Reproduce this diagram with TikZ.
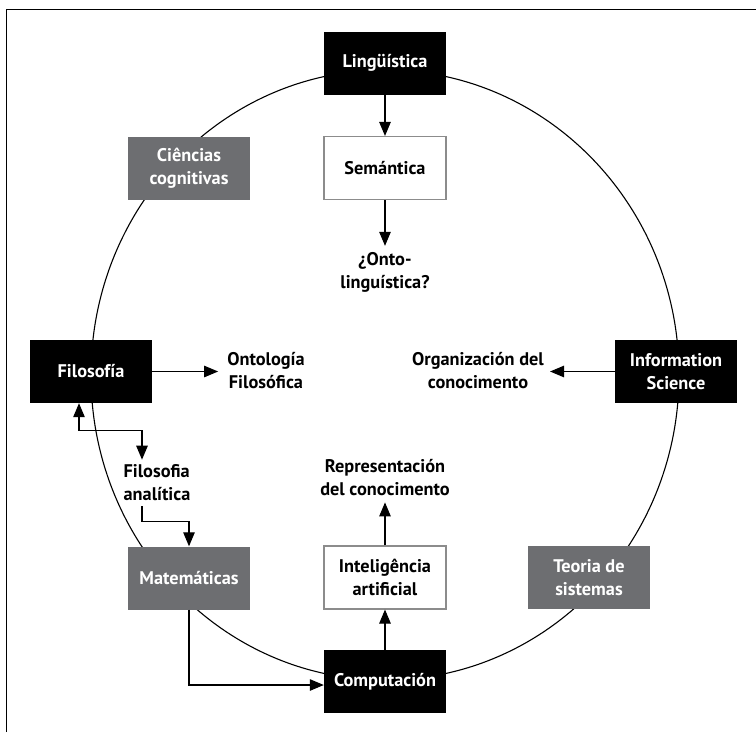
\documentclass[tikz,border=0pt]{standalone}
\usepackage{fontspec}
\setmainfont{PT Sans}
\usetikzlibrary{arrows.meta}
\definecolor{boxgray}{HTML}{6D6E71}
\definecolor{edgegray}{HTML}{8C8C8C}
\begin{document}
\begin{tikzpicture}[x=1pt,y=-1pt,
  font=\fontsize{18.3}{23}\selectfont\bfseries,
  box/.style={minimum width=122pt, minimum height=63pt, inner sep=0pt, align=center, text=white},
  blackbox/.style={box, fill=black},
  graybox/.style={box, fill=boxgray},
  whitebox/.style={box, fill=white, draw=edgegray, line width=1.1pt, text=black},
  lbl/.style={align=center, inner sep=6pt, text=black},
  arr/.style={-{Triangle[length=14pt,width=11.5pt]}, line width=1.1pt},
  dbl/.style={{Triangle[length=14pt,width=11.5pt]}-{Triangle[length=14pt,width=11.5pt]}, line width=1.1pt},
  ring/.style={line width=1.1pt}]
\useasboundingbox (0,0) rectangle (756,732);

% outer frame (top and left edges)
\draw[line width=1.3pt] (6.5,732) -- (6.5,9.5) -- (756,9.5);

% the ring behind the boxes
\draw[ring] (385,375) ellipse [x radius=294, y radius=305];

% boxes
\node[blackbox] (ling) at (385,63) {Lingüística};
\node[whitebox] (sem)  at (385,168) {Semántica};
\node[graybox]  (cog)  at (189,168.5) {Ciências\\cognitivas};
\node[blackbox] (filo) at (91,371.5) {Filosofía};
\node[blackbox] (info) at (676,371.5) {Information\\Science};
\node[graybox]  (mat)  at (189,578) {Matemáticas};
\node[whitebox] (ia)   at (385,577.5) {Inteligência\\artificial};
\node[graybox]  (teo)  at (589,577.5) {Teoria de\\sistemas};
\node[blackbox] (comp) at (385,681.5) {Computación};

% free labels
\node[lbl] (onto) at (385,272) {¿Onto-\\linguística?};
\node[lbl, inner xsep=9pt] (ontfil) at (266,371) {Ontología\\Filosófica};
\node[lbl] (org)  at (478,371) {Organización del\\conocimento};
\node[lbl] (rep)  at (385,478) {Representación\\del conocimento};
\node[lbl, align=left, inner sep=5pt] (ana) at (157,483) {Filosofia\\analítica};

% connectors
\draw[arr] (ling) -- (sem);
\draw[arr] (sem) -- (onto);
\draw[arr] (filo.east) -- (filo.east -| ontfil.west);
\draw[arr] (info.west) -- (info.west -| org.east);
\draw[arr] (comp) -- (ia);
\draw[arr] (ia) -- (rep);
\draw[dbl] ([xshift=-12pt]filo.south) -- ++(0,27) -| ([xshift=-15pt]ana.north);
\draw[arr] ([xshift=-15pt]ana.south) -- ++(0,15) -| (mat.north);
\draw[arr] (mat.south) |- ([yshift=-3.5pt]comp.west);
\end{tikzpicture}
\end{document}
